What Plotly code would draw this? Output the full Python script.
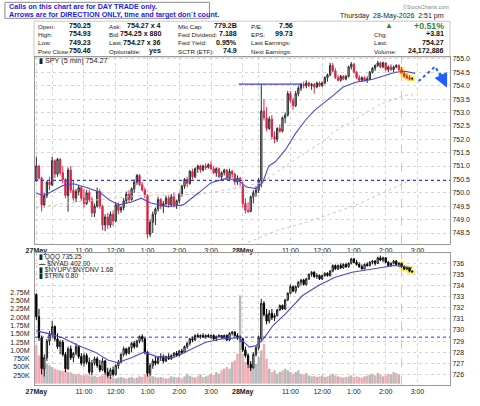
import plotly.graph_objects as go

# ---------------- data ----------------
spy_open = [750.45,751.00,750.55,749.55,749.90,750.40,750.30,751.20,750.70,751.25,
            750.75,750.50,749.90,750.85,750.10,749.80,750.05,750.20,749.80,749.60,
            750.00,749.75,749.25,749.50,750.05,749.50,748.80,749.10,748.80,749.20,
            748.95,749.55,749.35,749.45,749.70,749.95,749.75,750.15,750.40,750.65,
            750.30,750.10,749.90,748.45,748.90,749.20,749.40,749.75,749.50,749.60,
            749.80,749.55,749.85,749.55,749.70,749.95,750.25,750.50,750.35,750.80,
            750.60,750.90,751.00,750.85,751.00,750.95,751.05,750.90,750.75,750.90,
            750.60,750.75,750.85,750.55,750.80,750.70,750.40,750.55,
            750.25,749.60,749.35,749.30,749.85,750.00,750.10,750.45,753.05,752.80,
            752.40,752.75,752.10,752.00,752.40,752.30,752.80,752.90,753.70,753.45,
            753.25,753.70,753.90,754.05,754.00,754.10,754.00,754.05,753.95,754.10,
            754.00,754.10,754.30,754.40,754.75,754.55,754.30,754.20,754.35,754.25,
            754.35,754.70,754.80,754.50,754.30,754.20,754.30,754.20,754.25,754.50,
            754.65,754.75,754.85,754.70,754.85,754.60,754.70,754.60,754.70,754.75,
            754.60,754.45,754.35,754.30,754.25]
spy_high = [751.35,751.05,750.60,750.00,750.45,750.60,751.35,751.25,751.30,751.30,
            751.00,750.55,750.95,751.00,750.45,750.15,750.30,750.25,750.15,750.10,
            750.10,749.85,749.60,750.20,750.15,749.55,749.20,749.25,749.30,749.35,
            749.65,749.65,749.50,749.80,750.05,750.10,750.20,750.50,750.70,750.70,
            750.40,750.20,749.95,749.00,749.30,749.45,749.85,749.80,749.70,749.90,
            749.90,749.95,750.00,749.75,750.00,750.30,750.55,750.60,750.85,750.90,
            750.95,751.05,751.05,751.05,751.10,751.10,751.17,751.00,750.95,750.95,
            750.80,750.90,750.90,750.90,750.85,750.75,750.65,750.60,
            750.45,749.80,749.65,749.90,750.10,750.25,750.55,754.06,753.50,753.20,
            752.85,752.90,752.30,752.45,752.55,752.85,753.00,753.80,753.80,753.55,
            753.80,754.00,754.10,754.15,754.20,754.15,754.10,754.10,754.15,754.15,
            754.15,754.35,754.45,754.85,754.85,754.65,754.40,754.40,754.40,754.40,
            754.75,754.88,754.85,754.55,754.40,754.35,754.35,754.35,754.55,754.70,
            754.80,754.93,754.90,754.90,754.88,754.75,754.80,754.75,754.80,754.80,
            754.70,754.55,754.45,754.40,754.32]
spy_low = [750.40,750.50,749.30,749.45,749.80,750.10,750.25,750.55,750.60,750.65,
           750.35,749.80,749.30,750.00,749.70,749.65,749.90,749.70,749.45,749.55,
           749.65,749.10,749.10,749.45,749.40,748.60,748.57,748.65,748.70,748.75,
           748.90,749.20,749.25,749.35,749.60,749.65,749.70,750.00,750.30,750.25,
           750.05,749.80,748.30,748.35,748.50,748.80,749.30,749.40,749.25,749.50,
           749.45,749.50,749.45,749.40,749.60,749.85,750.15,750.20,750.30,750.50,
           750.55,750.75,750.75,750.80,750.85,750.90,750.85,750.70,750.60,750.55,
           750.50,750.65,750.50,750.45,750.55,750.30,750.30,750.25,
           749.45,749.23,749.25,749.28,749.60,749.85,750.00,750.20,752.70,752.30,
           752.35,752.00,751.85,751.90,752.25,752.25,752.60,752.85,753.35,753.10,
           753.20,753.60,753.80,753.90,753.90,753.95,753.85,753.70,753.90,753.95,
           753.95,754.05,754.15,754.35,754.50,754.25,754.15,754.15,754.20,754.20,
           754.30,754.60,754.45,754.25,754.15,754.15,754.15,754.10,754.20,754.45,
           754.55,754.70,754.65,754.65,754.55,754.50,754.55,754.50,754.65,754.55,
           754.40,754.30,754.25,754.20,754.20]
spy_close = [751.00,750.55,749.55,749.90,750.40,750.30,751.20,750.70,751.25,750.75,
             750.50,749.90,750.85,750.10,749.80,750.05,750.20,749.80,749.60,750.00,
             749.75,749.25,749.50,750.05,749.50,748.80,749.10,748.80,749.20,748.95,
             749.55,749.35,749.45,749.70,749.95,749.75,750.15,750.40,750.65,750.30,
             750.10,749.90,748.45,748.90,749.20,749.40,749.75,749.50,749.60,749.80,
             749.55,749.85,749.55,749.70,749.95,750.25,750.50,750.35,750.80,750.60,
             750.90,751.00,750.85,751.00,750.95,751.05,750.90,750.75,750.90,750.60,
             750.75,750.85,750.55,750.80,750.70,750.40,750.55,750.46,
             749.60,749.35,749.30,749.85,750.00,750.10,750.45,753.05,752.80,752.40,
             752.75,752.10,752.00,752.40,752.30,752.80,752.90,753.70,753.45,753.25,
             753.70,753.90,754.05,754.00,754.10,754.00,754.05,753.95,754.10,754.00,
             754.10,754.30,754.40,754.75,754.55,754.30,754.20,754.35,754.25,754.35,
             754.70,754.80,754.50,754.30,754.20,754.30,754.20,754.25,754.50,754.65,
             754.75,754.85,754.70,754.85,754.60,754.70,754.60,754.70,754.75,754.60,
             754.45,754.35,754.30,754.25,754.27]

qqq_open = [733.20,731.20,729.30,726.50,727.50,729.00,729.60,730.30,729.20,728.50,
            728.90,727.80,726.50,728.30,727.50,727.90,728.50,727.60,727.00,727.70,
            727.10,726.20,727.00,727.40,726.80,726.40,727.20,726.20,725.90,726.40,
            726.00,726.80,727.10,727.80,728.30,727.90,728.40,728.80,728.50,729.00,
            729.40,729.20,728.00,726.10,726.80,727.20,727.00,727.50,727.60,727.20,
            727.60,727.40,727.70,727.90,727.70,728.10,728.00,728.50,728.80,729.20,
            729.10,729.50,729.40,729.50,729.35,729.50,729.40,729.50,729.20,729.40,
            729.50,729.30,729.50,729.10,729.70,729.80,729.50,729.30,
            729.20,728.20,727.70,726.90,726.60,727.80,728.40,729.20,732.40,731.40,
            730.80,731.50,731.10,731.30,731.80,732.20,731.90,732.70,733.30,733.90,
            733.50,733.90,734.30,734.50,734.10,734.60,735.00,735.20,734.80,734.90,
            734.60,734.90,735.10,734.90,735.30,735.80,735.50,735.80,735.60,735.90,
            735.70,736.00,736.40,736.10,735.90,735.70,735.50,735.90,735.80,736.10,
            736.20,736.00,736.50,736.30,736.50,736.10,735.80,736.00,736.20,735.90,
            736.00,735.70,735.50,735.60,735.30]
qqq_high = [733.30,731.90,729.50,727.80,729.20,729.90,730.80,730.40,729.70,729.10,
            729.10,728.00,728.50,728.60,728.00,728.80,728.60,727.90,727.90,727.90,
            727.50,727.30,727.60,727.60,727.30,727.50,727.30,726.60,726.60,726.70,
            726.90,727.30,727.90,728.50,728.40,728.50,728.90,729.00,729.10,729.50,
            729.60,729.30,728.10,727.00,727.40,727.60,727.60,727.90,727.80,727.70,
            727.90,727.80,728.00,728.10,728.20,728.30,728.60,728.90,729.30,729.40,
            729.60,729.70,729.60,729.70,729.60,729.65,729.60,729.60,729.50,729.60,
            729.55,729.60,729.60,729.80,729.90,729.90,729.70,729.50,
            729.30,728.50,727.90,727.20,728.00,728.60,729.50,732.80,732.60,731.90,
            731.80,731.90,731.50,731.90,732.30,732.30,732.80,733.40,734.10,734.00,
            734.00,734.40,734.60,734.60,734.70,735.10,735.30,735.30,735.10,735.00,
            735.00,735.20,735.20,735.40,735.90,735.90,735.90,736.00,736.00,736.05,
            736.10,736.50,736.50,736.30,736.10,735.90,736.00,736.10,736.20,736.30,
            736.30,736.60,736.70,736.60,736.55,736.20,736.10,736.30,736.30,736.10,
            736.05,735.80,735.70,735.65,735.35]
qqq_low = [730.90,729.00,726.00,725.80,727.20,728.60,729.30,729.00,728.30,727.80,
           727.60,726.20,726.40,727.30,727.10,727.70,727.40,726.80,726.70,726.90,
           726.00,725.90,726.80,726.60,726.20,726.30,726.00,725.70,725.60,725.80,
           725.90,726.50,727.00,727.60,727.70,727.80,728.00,728.30,728.40,728.80,
           728.90,727.80,725.80,725.90,726.50,726.80,726.90,727.20,727.00,727.10,
           727.30,727.30,727.50,727.60,727.60,727.80,727.90,728.30,728.60,728.90,
           729.00,729.30,729.20,729.30,729.20,729.30,729.20,729.10,729.00,729.30,
           729.20,729.20,729.00,729.00,729.50,729.40,729.10,728.90,
           728.00,727.50,726.60,726.30,726.50,727.60,728.20,728.90,731.20,730.50,
           730.60,730.90,730.80,731.20,731.70,731.80,731.80,732.60,733.20,733.40,
           733.30,733.80,734.00,734.00,734.00,734.50,734.80,734.70,734.60,734.50,
           734.50,734.80,734.80,734.80,735.20,735.40,735.40,735.50,735.50,735.60,
           735.60,735.90,736.00,735.80,735.60,735.45,735.45,735.70,735.70,735.90,
           735.80,735.95,736.20,736.10,736.00,735.70,735.70,735.90,735.80,735.70,
           735.60,735.40,735.40,735.20,735.15]
qqq_close = [731.20,729.30,726.50,727.50,729.00,729.60,730.30,729.20,728.50,728.90,
             727.80,726.50,728.30,727.50,727.90,728.50,727.60,727.00,727.70,727.10,
             726.20,727.00,727.40,726.80,726.40,727.20,726.20,725.90,726.40,726.00,
             726.80,727.10,727.80,728.30,727.90,728.40,728.80,728.50,729.00,729.40,
             729.20,728.00,726.10,726.80,727.20,727.00,727.50,727.60,727.20,727.60,
             727.40,727.70,727.90,727.70,728.10,728.00,728.50,728.80,729.20,729.10,
             729.50,729.40,729.50,729.35,729.50,729.40,729.50,729.20,729.40,729.50,
             729.30,729.50,729.10,729.70,729.80,729.50,729.30,729.35,
             728.20,727.70,726.90,726.60,727.80,728.40,729.30,732.40,731.40,730.80,
             731.50,731.10,731.30,731.80,732.20,731.90,732.70,733.30,733.90,733.50,
             733.90,734.30,734.50,734.10,734.60,735.00,735.20,734.80,734.90,734.60,
             734.90,735.10,734.90,735.30,735.80,735.50,735.80,735.60,735.90,735.70,
             736.00,736.40,736.10,735.90,735.70,735.50,735.90,735.80,736.10,736.20,
             736.00,736.50,736.30,736.50,736.10,735.80,736.00,736.20,735.90,736.00,
             735.70,735.50,735.60,735.30,735.25]
qqq_volume_m = [1.15,0.85,0.80,0.68,0.60,0.55,0.50,0.45,0.42,0.40,
                0.38,0.40,0.36,0.34,0.30,0.28,0.30,0.26,0.25,0.28,
                0.25,0.22,0.24,0.20,0.22,0.25,0.30,0.22,0.20,0.18,
                0.16,0.18,0.20,0.18,0.15,0.18,0.20,0.16,0.18,0.22,
                0.20,0.28,0.38,0.30,0.22,0.20,0.18,0.20,0.17,0.15,
                0.18,0.22,0.20,0.18,0.20,0.16,0.22,0.30,0.24,0.20,
                0.18,0.22,0.28,0.20,0.22,0.25,0.30,0.26,0.35,0.30,
                0.40,0.45,0.50,0.45,0.65,0.70,0.90,2.65,
                0.90,0.65,0.50,0.55,0.50,0.60,0.80,1.00,1.20,0.75,
                0.45,0.35,0.40,0.30,0.35,0.40,0.45,0.40,0.35,0.30,
                0.35,0.40,0.30,0.28,0.32,0.25,0.22,0.24,0.20,0.22,
                0.25,0.20,0.22,0.25,0.30,0.25,0.22,0.20,0.18,0.20,
                0.22,0.25,0.20,0.22,0.20,0.18,0.22,0.24,0.28,0.30,
                0.25,0.32,0.28,0.22,0.25,0.30,0.28,0.35,0.32,0.28]

# moving-average lines (bar index, value)
spy_ema_bar = [0, 3, 6.6, 10, 14, 19, 24, 27.6, 31.3, 36, 39.6, 43.3, 49.6, 55.5, 61.6, 66, 71, 76,
               79.3, 83, 85.5, 87.8, 90.4, 94.1, 97.8, 101.6, 105.3, 108.6, 112.2, 115.9, 120.8,
               127.1, 131.9, 135.7, 139.4, 143.1]
spy_ema_val = [749.98, 749.90, 750.09, 750.27, 750.34, 750.20, 750.02, 749.73, 749.55, 749.66, 749.80,
               749.62, 749.48, 749.55, 750.02, 750.38, 750.52, 750.50, 750.22, 750.16, 750.38, 751.00,
               751.17, 751.60, 752.20, 752.70, 753.10, 753.35, 753.64, 753.95, 754.13, 754.24, 754.40,
               754.50, 754.54, 754.46]
spy_sma_bar = [0, 15, 40, 62, 77, 85, 101, 109.5, 111.8, 120.3, 129.2, 138.8, 142.5]
spy_sma_val = [749.45, 749.66, 749.90, 749.95, 750.20, 750.38, 751.46, 752.00, 752.25, 752.73, 753.27, 753.63, 753.66]
spy_slow_bar = [80, 91, 102, 121, 142]
spy_slow_val = [748.15, 748.60, 748.90, 749.55, 750.50]
qqq_ema_bar = [0, 4.7, 9.9, 15.8, 22.2, 27, 30.7, 35.9, 40.7, 45.5, 51.8, 58.1, 64, 70.4, 76.7, 80.5,
               83.1, 85.7, 89.4, 94.3, 100.6, 106.6, 112.9, 119.3, 125.3, 131.6, 135.3, 141.9]
qqq_ema_val = [729.92, 729.67, 729.30, 728.60, 728.00, 727.30, 727.05, 727.50, 728.00, 727.60, 727.50,
               728.20, 728.90, 729.20, 729.30, 728.45, 728.60, 729.15, 730.40, 731.50, 733.10, 734.00,
               734.75, 735.20, 735.45, 735.70, 735.80, 735.60]

spy_prev_close = 750.46
qqq_prev_close = 729.35
trend_bars = [76.5, 100.4]
trend_level = 754.06
arrow_bars = [144.4, 150.7, 154.8]
arrow_vals = [754.17, 754.71, 753.99]

day_labels = ["27May", "28May"]
hour_labels = ["10:00", "11:00", "12:00", "1:00", "2:00", "3:00"]
highlight_time = "2:30"
bars_per_day = 78

vol_ticks = [0.25, 0.5, 0.75, 1.0, 1.25, 1.5, 1.75, 2.0, 2.25, 2.5, 2.75]
vol_ticktext = ["250K", "500K", "750K", "1.00M", "1.25M", "1.50M", "1.75M", "2.00M", "2.25M", "2.50M", "2.75M"]

# ---------------- helpers ----------------
def bar_of(day, hhmm):
    h, m = map(int, hhmm.split(":"))
    if h < 9:
        h += 12
    return day * bars_per_day + (h * 60 + m - (9 * 60 + 30)) // 5

bars = list(range(len(spy_close)))
hl_start = bar_of(1, highlight_time)
hl = bars[hl_start:]

tickvals, ticktext = [], []
for d, dl in enumerate(day_labels):
    tickvals.append(bar_of(d, "9:30")); ticktext.append("<b>%s</b>" % dl)
    for hlab in hour_labels:
        tickvals.append(bar_of(d, hlab)); ticktext.append("" if hlab == "10:00" else hlab)

W, H = 480, 406
L, R, T, B = 31, 28, 57, 10
PW, PH = W - L - R, H - T - B
def pxx(x): return (x - L) / PW
def pxy(y): return (H - B - y) / PH

FONT = "Liberation Sans, Arial, sans-serif"
fig = go.Figure()

# ---- top panel (SPY) ----
fig.add_trace(go.Scatter(x=spy_slow_bar, y=spy_slow_val, mode="lines",
                         line=dict(color="#b9cbbb", width=1, dash="dot"), xaxis="x", yaxis="y"))
fig.add_trace(go.Scatter(x=spy_sma_bar, y=spy_sma_val, mode="lines",
                         line=dict(color="#f2b6bf", width=1, dash="dot"), xaxis="x", yaxis="y"))
yel = dict(line=dict(color="#fff03a", width=4), fillcolor="#fff03a")
fig.add_trace(go.Candlestick(x=hl, open=spy_open[hl_start:], high=spy_high[hl_start:],
                             low=spy_low[hl_start:], close=spy_close[hl_start:],
                             increasing=yel, decreasing=yel, whiskerwidth=0, xaxis="x", yaxis="y"))
fig.add_trace(go.Candlestick(x=bars, open=spy_open, high=spy_high, low=spy_low, close=spy_close,
                             increasing=dict(line=dict(color="#2a2a2a", width=1), fillcolor="#c4c4c4"),
                             decreasing=dict(line=dict(color="#e0284c", width=1), fillcolor="#d0103a"),
                             whiskerwidth=0, xaxis="x", yaxis="y"))
fig.add_trace(go.Scatter(x=spy_ema_bar, y=spy_ema_val, mode="lines",
                         line=dict(color="#4a4ad0", width=1.1), xaxis="x", yaxis="y"))
fig.add_trace(go.Scatter(x=trend_bars, y=[trend_level, trend_level], mode="lines",
                         line=dict(color="#3b3be8", width=1.2), xaxis="x", yaxis="y"))
fig.add_trace(go.Scatter(x=arrow_bars, y=arrow_vals, mode="lines",
                         line=dict(color="#1f5fff", width=2, dash="dot"), xaxis="x", yaxis="y"))

# ---- bottom panel (QQQ + volume) ----
vol_colors = ["#b8b8b8" if qqq_close[i] >= qqq_open[i] else "#f2aab4" for i in range(len(qqq_volume_m))]
fig.add_trace(go.Bar(x=bars[:len(qqq_volume_m)], y=qqq_volume_m, marker=dict(color=vol_colors, line=dict(width=0)),
                     width=0.92, xaxis="x2", yaxis="y2"))
fig.add_trace(go.Candlestick(x=hl, open=qqq_open[hl_start:], high=qqq_high[hl_start:],
                             low=qqq_low[hl_start:], close=qqq_close[hl_start:],
                             increasing=yel, decreasing=yel, whiskerwidth=0, xaxis="x2", yaxis="y3"))
fig.add_trace(go.Candlestick(x=bars, open=qqq_open, high=qqq_high, low=qqq_low, close=qqq_close,
                             increasing=dict(line=dict(color="#1a1a1a", width=1), fillcolor="#f4f4f4"),
                             decreasing=dict(line=dict(color="#000000", width=1), fillcolor="#000000"),
                             whiskerwidth=0, xaxis="x2", yaxis="y3"))
fig.add_trace(go.Scatter(x=qqq_ema_bar, y=qqq_ema_val, mode="lines",
                         line=dict(color="#4a4ad0", width=1.1), xaxis="x2", yaxis="y3"))

xr = [-0.5, 156.3]
grid = dict(showgrid=True, gridcolor="#d4d4d4", griddash="dot", gridwidth=1)
frame = dict(showline=True, mirror=True, linecolor="#9a9a9a", linewidth=1, zeroline=False)
fig.update_layout(
    width=W, height=H, margin=dict(l=L, r=R, t=T, b=B),
    paper_bgcolor="white", plot_bgcolor="white", showlegend=False,
    font=dict(family=FONT, size=7, color="#222"),
    xaxis=dict(domain=[0, 1], range=xr, tickvals=tickvals, ticktext=ticktext, anchor="y",
               rangeslider=dict(visible=False), ticks="", tickfont=dict(size=7), **grid, **frame),
    yaxis=dict(domain=[pxy(250), 1], range=[748.10, 755.07], side="right", dtick=0.5, tick0=748.5,
               tickformat=".1f", anchor="x", ticks="", tickfont=dict(size=7), **grid, **frame),
    xaxis2=dict(domain=[0, 1], range=xr, tickvals=tickvals, ticktext=ticktext, anchor="y2",
                rangeslider=dict(visible=False), ticks="", tickfont=dict(size=7), **grid, **frame),
    yaxis2=dict(domain=[0, pxy(259.5)], range=[-0.04, 3.93], side="left", anchor="x2",
                tickvals=vol_ticks, ticktext=vol_ticktext, showgrid=False, ticks="outside",
                ticklen=3, tickcolor="rgba(0,0,0,0)", tickfont=dict(size=7), **frame),
    yaxis3=dict(overlaying="y2", side="right", anchor="x2", range=[725.04, 736.94], dtick=1,
                ticks="", tickfont=dict(size=7), **grid, showline=True, linecolor="#9a9a9a", zeroline=False),
)

shapes = []
shapes.append(dict(type="line", xref="x domain", yref="y", x0=0, x1=1, y0=spy_prev_close, y1=spy_prev_close,
                   line=dict(color="#3030f0", width=1, dash="dot")))
shapes.append(dict(type="line", xref="x2 domain", yref="y3", x0=0, x1=1, y0=qqq_prev_close, y1=qqq_prev_close,
                   line=dict(color="#3030f0", width=1, dash="dot")))
for xref, yr in [("x", "y domain"), ("x2", "y2 domain")]:
    shapes.append(dict(type="line", xref=xref, yref=yr, x0=hl_start, x1=hl_start, y0=0, y1=1,
                       line=dict(color="#f5c542", width=1, dash="dash")))
shapes.append(dict(type="rect", xref="paper", yref="paper", x0=pxx(30), x1=pxx(452), y0=pxy(57), y1=pxy(20),
                   line=dict(color="#c8c8c8", width=1), fillcolor="white", layer="below"))
shapes.append(dict(type="rect", xref="paper", yref="paper", x0=pxx(0.5), x1=pxx(208), y0=pxy(17), y1=pxy(0.5),
                   line=dict(color="#8c8c8c", width=1), fillcolor="white"))
fig.update_layout(shapes=shapes)

anns = []
def txt(x, y, s, size=7, bold=False, color="#222", anchor="left"):
    anns.append(dict(xref="paper", yref="paper", x=pxx(x), y=pxy(y), text=("<b>%s</b>" % s) if bold else s,
                     showarrow=False, xanchor=anchor, yanchor="middle",
                     font=dict(size=size, color=color, family=FONT)))

txt(3, 5, "Calls on this chart are for DAY TRADE only.", 7.2, True, "#1c1ce6")
txt(3, 13, "Arrows are for DIRECTION ONLY, time and target don`t count.", 7.2, True, "#1c1ce6")
txt(453, 5, "©StockCharts.com", 5.5, False, "#888", "right")
txt(448, 15, "Thursday  28-May-2026  2:51 pm", 7, False, "#222", "right")

rows = [25, 33.7, 42.3, 51]
LAB, VAL = 6.2, 7.1
c1l = ["Open:", "High:", "Low:", "Prev Close:"]
c1v = ["750.25", "754.93", "749.23", "750.46"]
c2l = ["Ask:", "Bid:", "Last:", "Optionable:"]
c2v = ["754.27 x 4", "754.25 x 880", "754.27 x 36", "yes"]
c3l = ["Mkt Cap:", "Fwd Dividend:", "Fwd Yield:", "SCTR (ETF):"]
c3v = ["779.2B", "7.188", "0.95%", "74.9"]
c4l = ["P/E:", "EPS:", "Last Earnings:", "Next Earnings:"]
c4v = ["7.56", "99.73", "", ""]
for k, yy in enumerate(rows):
    txt(32, yy, c1l[k], LAB)
    txt(90, yy, c1v[k], VAL, True, "#111", "right")
    txt(104, yy, c2l[k], LAB)
    txt(161, yy, c2v[k], VAL, True, "#111", "right")
    txt(174, yy, c3l[k], LAB)
    txt(238, yy, c3v[k], VAL, True, "#111", "right")
    txt(248, yy, c4l[k], LAB)
    if c4v[k]:
        txt(295, yy, c4v[k], VAL, True, "#111", "right")
txt(390, 24.5, "▲", 8, False, "#2e8b3a", "center")
txt(448, 24.5, "+0.51%", 8.8, True, "#2e8b3a", "right")
for k, (lab, val) in enumerate([("Chg:", "+3.81"), ("Last:", "754.27"), ("Volume:", "24,172,886")]):
    txt(373, rows[k + 1], lab, LAB)
    txt(448, rows[k + 1], val, VAL, True, "#111", "right")

# panel legends
txt(33, 61, "<b>▮</b> SPY (5 min) 754.27", 7.2)
txt(33, 264, "<b>▮</b> QQQ 735.25", 6.5)
txt(33, 270, "<b>—</b> $NYAD 402.00", 6.5)
txt(33, 276.5, "<b>▮</b> $NYUPV:$NYDNV 1.68", 6.5)
txt(33, 283, "<b>▮</b> $TRIN 0.80", 6.5)

# arrow head of the direction arrow
anns.append(dict(xref="x", yref="y", axref="x", ayref="y", x=arrow_bars[-1] + 0.4, y=arrow_vals[-1] - 0.06,
                 ax=arrow_bars[-2] + 1.5, ay=arrow_vals[-2] - 0.18, showarrow=True, arrowhead=2,
                 arrowsize=1.4, arrowwidth=2, arrowcolor="#1f5fff", text=""))
fig.update_layout(annotations=anns)

fig.write_html("out.html")
